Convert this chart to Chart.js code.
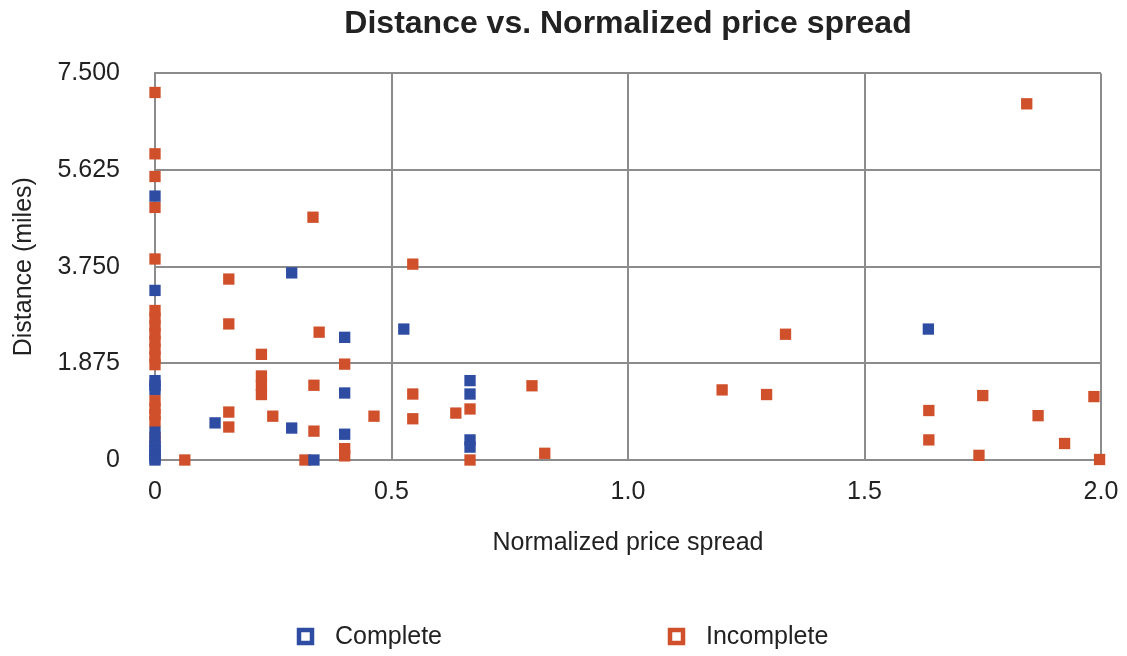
<!DOCTYPE html>
<html>
<head>
<meta charset="utf-8">
<title>Distance vs. Normalized price spread</title>
<script src="https://cdn.jsdelivr.net/npm/chart.js@4"></script>
<style>
  html, body { margin: 0; padding: 0; background: #fff; }
  #wrap { width: 1127px; height: 656px; position: relative; }
</style>
</head>
<body>
<div id="wrap"><canvas id="spreadChart"></canvas></div>
<script>
// Normalized price spread (x) and distance in miles (y) per store
const completeX = [0, 0, 0, 0, 0, 0, 0, 0, 0, 0, 0, 0,
    0.289, 0.526, 0.401, 0.401, 0.666, 0.666, 0.127, 0.289, 0.401, 0.666, 0.666, 0.336, 1.635];
const completeY = [5.12, 3.29, 1.54, 1.45, 1.37, 0.54, 0.34, 0.26, 0.18, 0.1, 0.04, 0,
    3.63, 2.54, 2.38, 1.30, 1.54, 1.28, 0.72, 0.62, 0.50, 0.39, 0.25, 0, 2.54];

const incompleteX = [0, 0, 0, 0, 0, 0, 0, 0, 0, 0, 0, 0, 0, 0, 0, 0, 0, 0,
    0.156, 0.156, 0.156, 0.156, 0.063, 0.334, 0.545, 0.347, 0.225, 0.401,
    0.225, 0.225, 0.225, 0.336, 0.249, 0.463, 0.336, 0.401, 0.401, 0.317,
    0.797, 0.545, 0.666, 0.636, 0.545, 0.666, 0.824,
    1.333, 1.199, 1.293, 1.636, 1.75, 1.985, 1.867, 1.636, 1.923, 1.742, 1.997, 1.843];
const incompleteY = [7.13, 5.94, 5.50, 4.90, 3.90, 2.90, 2.75, 2.60, 2.45, 2.30, 2.15, 2.00, 1.85,
    1.15, 1.00, 0.88, 0.75, 0.44,
    3.51, 2.64, 0.93, 0.64, 0, 4.71, 3.80, 2.48, 2.05, 1.86,
    1.63, 1.45, 1.27, 1.45, 0.85, 0.85, 0.56, 0.22, 0.08, 0,
    1.44, 1.28, 0.99, 0.91, 0.80, 0, 0.13,
    2.44, 1.36, 1.27, 0.96, 1.25, 1.23, 0.86, 0.39, 0.32, 0.09, 0.01, 6.91];

const yTicks = [0, 1.875, 3.75, 5.625, 7.5];
const xTicks = [0, 0.5, 1.0, 1.5, 2.0];

const BLUE = '#2d4ca2';
const ORANGE = '#d0502b';
const GRID = '#8c8c8c';
const TEXT = '#222';
const FONT = '"Liberation Sans", Arial, Helvetica, sans-serif';

const toPoints = (xs, ys) => xs.map((x, i) => ({ x, y: ys[i] }));

// legend drawn under the axis title, two spaced-out entries with hollow boxes
const bottomLegend = {
    id: 'bottomLegend',
    afterDraw(chart) {
        const ctx = chart.ctx;
        const items = [
            { label: 'Complete', color: BLUE, box: 297 },
            { label: 'Incomplete', color: ORANGE, box: 668 },
        ];
        const y = 637;
        ctx.save();
        items.forEach(it => {
            ctx.strokeStyle = it.color;
            ctx.lineWidth = 4.5;
            ctx.strokeRect(it.box + 2, y - 7, 13, 13);
            ctx.fillStyle = TEXT;
            ctx.font = `25px ${FONT}`;
            ctx.textBaseline = 'middle';
            ctx.textAlign = 'left';
            ctx.fillText(it.label, it.box + 38, y);
        });
        ctx.restore();
    }
};

const markerStyle = color => ({
    backgroundColor: color,
    borderColor: color,
    borderWidth: 0,
    pointStyle: 'rect',
    pointRadius: 8,
    pointHoverRadius: 8,
    clip: false,
});

new Chart(document.getElementById('spreadChart'), {
    type: 'scatter',
    data: {
        datasets: [
            { label: 'Complete', data: toPoints(completeX, completeY), ...markerStyle(BLUE) },
            { label: 'Incomplete', data: toPoints(incompleteX, incompleteY), ...markerStyle(ORANGE) }
        ]
    },
    options: {
        responsive: true,
        maintainAspectRatio: false,
        animation: false,
        layout: { padding: { left: 0, right: 26, top: 0, bottom: 86 } },
        plugins: {
            legend: { display: false },
            tooltip: { enabled: false },
            title: {
                display: true,
                text: 'Distance vs. Normalized price spread',
                fullSize: false,
                color: TEXT,
                font: { family: FONT, size: 32, weight: 'bold' },
                padding: { top: 5, bottom: 30 }
            }
        },
        scales: {
            x: {
                type: 'linear',
                min: 0,
                max: 2,
                afterFit: s => { s.height = 110; s.paddingRight = 0; s.paddingLeft = 0; },
                afterBuildTicks: s => { s.ticks = xTicks.map(v => ({ value: v })); },
                ticks: {
                    padding: 17,
                    color: TEXT,
                    font: { family: FONT, size: 25 },
                    callback: v => v === 0 ? '0' : v.toFixed(1)
                },
                grid: { color: GRID, lineWidth: 2, drawTicks: false },
                border: { color: GRID, width: 2 },
                title: {
                    display: true,
                    text: 'Normalized price spread',
                    color: TEXT,
                    font: { family: FONT, size: 25 },
                    padding: { top: 0, bottom: 12 }
                }
            },
            y: {
                type: 'linear',
                min: 0,
                max: 7.5,
                afterFit: s => { s.width = 155; },
                afterBuildTicks: s => { s.ticks = yTicks.map(v => ({ value: v })); },
                ticks: {
                    padding: 35,
                    color: TEXT,
                    font: { family: FONT, size: 25 },
                    callback: v => v === 0 ? '0' : v.toFixed(3)
                },
                grid: { color: GRID, lineWidth: 2, drawTicks: false },
                border: { color: GRID, width: 2 },
                title: {
                    display: true,
                    text: 'Distance (miles)',
                    color: TEXT,
                    font: { family: FONT, size: 25 },
                    padding: { top: 9, bottom: 0 }
                }
            }
        }
    },
    plugins: [bottomLegend]
});
</script>
</body>
</html>
